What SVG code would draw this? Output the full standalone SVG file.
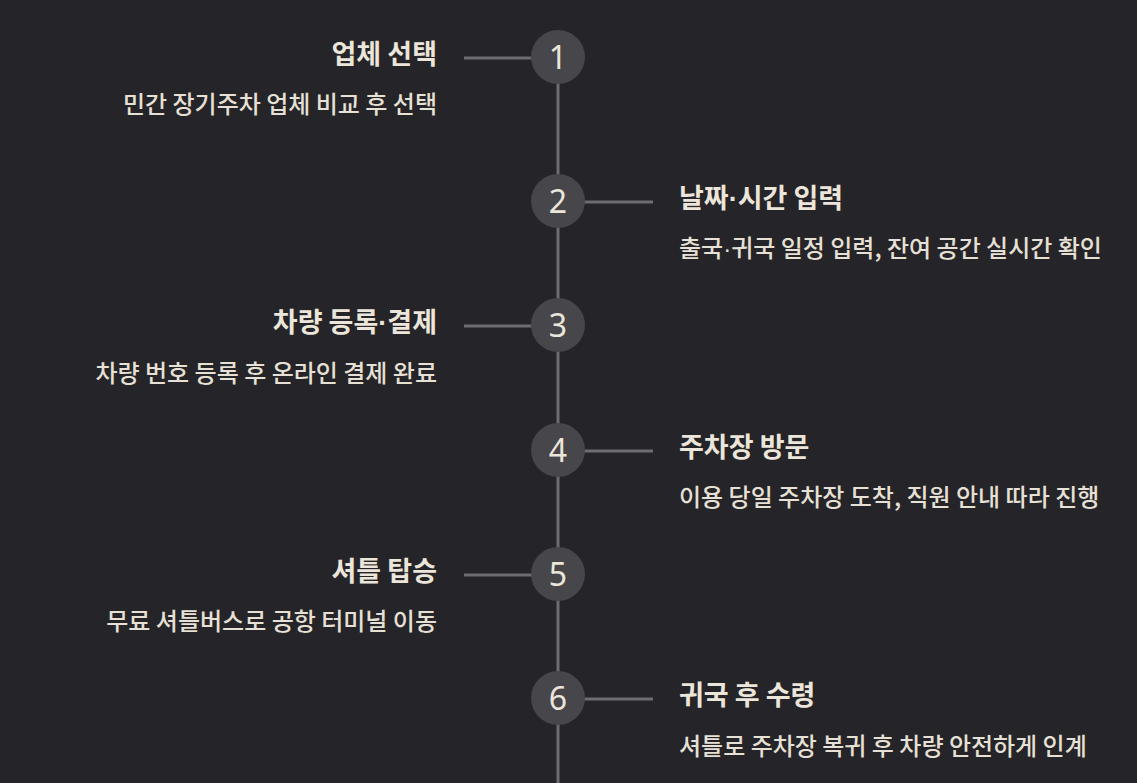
<svg xmlns="http://www.w3.org/2000/svg" width="1137" height="783" viewBox="0 0 1137 783">
<style>
.t{font-family:"Noto Sans CJK KR","Noto Sans",sans-serif;font-weight:700;font-size:27px;fill:#ebe5da}
.d{font-family:"Noto Sans CJK KR","Noto Sans",sans-serif;font-weight:500;font-size:24px;fill:#e6e0d5}
.n{font-family:"Noto Sans","Inter",sans-serif;font-size:32px;fill:#ebe5da;text-anchor:middle}
.m{font-family:"Liberation Sans",sans-serif}
.c{fill:#47464b}
.l{stroke:#6d6c71;stroke-width:3;fill:none}
.L{text-anchor:end}
</style>
<rect width="1137" height="783" fill="#252429"/>
<g id="connectors">
<line class="l" x1="558" y1="57" x2="558" y2="783"/>
<line class="l" x1="464" y1="58" x2="532" y2="58"/>
<line class="l" x1="584" y1="202" x2="653" y2="202"/>
<line class="l" x1="464" y1="326" x2="532" y2="326"/>
<line class="l" x1="584" y1="451" x2="653" y2="451"/>
<line class="l" x1="464" y1="575" x2="532" y2="575"/>
<line class="l" x1="584" y1="699" x2="653" y2="699"/>
</g>
<g id="step1">
<circle class="c" cx="558" cy="57" r="27"/>
<text class="n" x="558" y="69">1</text>
<text class="t L" x="437" y="64">업체 선택</text>
<text class="d L" x="437" y="113">민간 장기주차 업체 비교 후 선택</text>
</g>
<g id="step2">
<circle class="c" cx="558" cy="201" r="27"/>
<text class="n" x="558" y="213">2</text>
<text class="t" x="679" y="208">날짜<tspan class="m">·</tspan>시간 입력</text>
<text class="d" x="679" y="257">출국<tspan class="m">·</tspan>귀국 일정 입력, 잔여 공간 실시간 확인</text>
</g>
<g id="step3">
<circle class="c" cx="558" cy="325" r="27"/>
<text class="n" x="558" y="337">3</text>
<text class="t L" x="437" y="332">차량 등록<tspan class="m">·</tspan>결제</text>
<text class="d L" x="437" y="382">차량 번호 등록 후 온라인 결제 완료</text>
</g>
<g id="step4">
<circle class="c" cx="558" cy="450" r="27"/>
<text class="n" x="558" y="462">4</text>
<text class="t" x="679" y="457">주차장 방문</text>
<text class="d" x="679" y="506">이용 당일 주차장 도착, 직원 안내 따라 진행</text>
</g>
<g id="step5">
<circle class="c" cx="558" cy="574" r="27"/>
<text class="n" x="558" y="586">5</text>
<text class="t L" x="437" y="581">셔틀 탑승</text>
<text class="d L" x="437" y="630">무료 셔틀버스로 공항 터미널 이동</text>
</g>
<g id="step6">
<circle class="c" cx="558" cy="698" r="27"/>
<text class="n" x="558" y="710">6</text>
<text class="t" x="679" y="705">귀국 후 수령</text>
<text class="d" x="679" y="755">셔틀로 주차장 복귀 후 차량 안전하게 인계</text>
</g>
</svg>
